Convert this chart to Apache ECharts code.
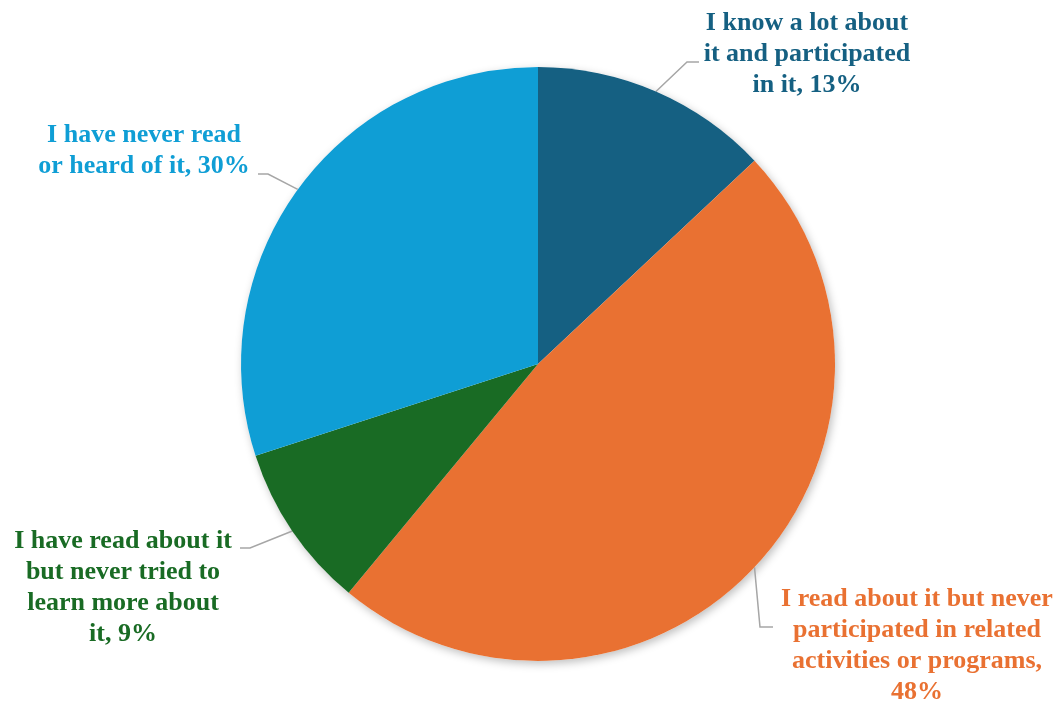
<!DOCTYPE html>
<html>
<head>
<meta charset="utf-8">
<script src="https://cdn.jsdelivr.net/npm/echarts@6/dist/echarts.min.js"></script>
<style>
  html, body { margin: 0; padding: 0; background: #fff; }
  #main { width: 1064px; height: 701px; }
</style>
</head>
<body>
<div id="main"></div>
<script>
// data
var categories = [
  "I know a lot about\nit and participated\nin it",
  "I read about it but never\nparticipated in related\nactivities or programs,",
  "I have read about it\nbut never tried to\nlearn more about\nit",
  "I have never read\nor heard of it"
];
var values = [13, 48, 9, 30];
var colors = ["#156082", "#E97132", "#196B24", "#0F9ED5"];

// label placement (center of text block + label line elbow)
var labelPos = [
  { x: 807, y: 54, elbow: [687, 62], end: [699, 62] },
  { x: 917, y: 646, elbow: [760, 627], end: [773, 627] },
  { x: 123, y: 588, elbow: [250, 548], end: [240, 548] },
  { x: 144, y: 151, elbow: [268, 174], end: [258, 174] }
];

var myChart = echarts.init(document.getElementById("main"));

myChart.setOption({
  animation: false,
  series: [
    {
      // soft drop shadow behind the whole pie
      type: "pie",
      silent: true,
      center: [538, 364],
      radius: 297,
      z: 1,
      label: { show: false },
      labelLine: { show: false },
      data: [{ value: 1, itemStyle: { color: "#ffffff" } }],
      itemStyle: {
        shadowBlur: 8,
        shadowOffsetX: 2,
        shadowOffsetY: 3,
        shadowColor: "rgba(0,0,0,0.25)"
      }
    },
    {
      type: "pie",
      center: [538, 364],
      radius: 297,
      startAngle: 90,
      clockwise: true,
      z: 2,
      data: values.map(function (v, i) {
        return {
          name: categories[i],
          value: v,
          itemStyle: { color: colors[i] },
          label: { color: colors[i] }
        };
      }),
      itemStyle: { borderWidth: 0 },
      label: {
        show: true,
        position: "outside",
        alignTo: "none",
        overflow: "none",
        fontFamily: "Liberation Serif",
        fontWeight: "bold",
        fontSize: 26,
        lineHeight: 31,
        align: "center",
        formatter: function (p) {
          var sep = p.dataIndex === 1 ? "\n" : ", ";
          return p.name + sep + p.value + "%";
        }
      },
      labelLine: {
        show: true,
        length: 20,
        length2: 10,
        lineStyle: { color: "#a6a6a6", width: 1.5 }
      },
      labelLayout: function (params) {
        var lp = labelPos[params.dataIndex];
        var start = params.labelLinePoints ? params.labelLinePoints[0] : lp.elbow;
        return {
          x: lp.x,
          y: lp.y,
          align: "center",
          verticalAlign: "middle",
          labelLinePoints: [start, lp.elbow, lp.end]
        };
      }
    }
  ]
});
</script>
</body>
</html>
